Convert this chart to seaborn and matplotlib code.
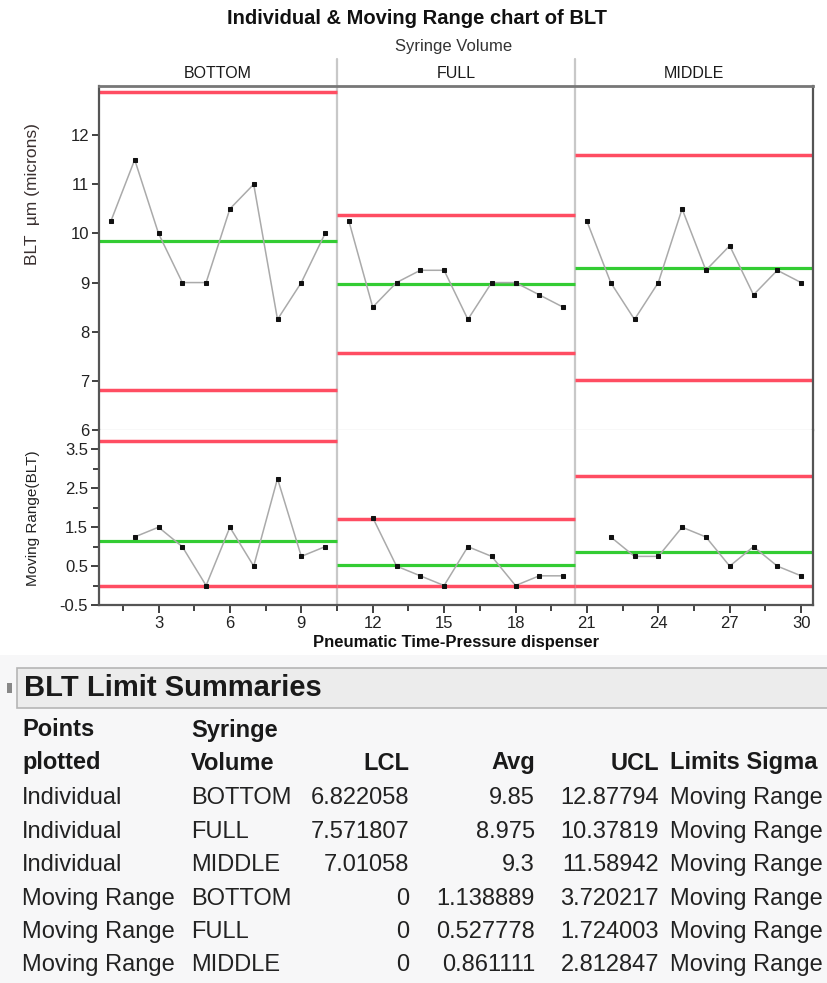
import numpy as np
import pandas as pd
import matplotlib
matplotlib.use("Agg")
import matplotlib.pyplot as plt
import seaborn as sns
from matplotlib.patches import Rectangle
from matplotlib.ticker import FixedLocator
import matplotlib.transforms as mtransforms

# ---------------- data ----------------
groups = ["BOTTOM", "FULL", "MIDDLE"]
sample = list(range(1, 31))
blt_bottom = [10.25, 11.5, 10.0, 9.0, 9.0, 10.5, 11.0, 8.25, 9.0, 10.0]
blt_full = [10.25, 8.5, 9.0, 9.25, 9.25, 8.25, 9.0, 9.0, 8.75, 8.5]
blt_middle = [10.25, 9.0, 8.25, 9.0, 10.5, 9.25, 9.75, 8.75, 9.25, 9.0]
mr_bottom = [None, 1.25, 1.5, 1.0, 0.0, 1.5, 0.5, 2.75, 0.75, 1.0]
mr_full = [None, 1.75, 0.5, 0.25, 0.0, 1.0, 0.75, 0.0, 0.25, 0.25]
mr_middle = [None, 1.25, 0.75, 0.75, 1.5, 1.25, 0.5, 1.0, 0.5, 0.25]

# limit summaries table
points_plotted = ["Individual", "Individual", "Individual",
                  "Moving Range", "Moving Range", "Moving Range"]
syringe_volume = ["BOTTOM", "FULL", "MIDDLE", "BOTTOM", "FULL", "MIDDLE"]
lcl = [6.822058, 7.571807, 7.01058, 0, 0, 0]
avg = [9.85, 8.975, 9.3, 1.138889, 0.527778, 0.861111]
ucl = [12.87794, 10.37819, 11.58942, 3.720217, 1.724003, 2.812847]
limits_sigma = ["Moving Range"] * 6

y_ticks_ind = [6, 7, 8, 9, 10, 11, 12]
y_ticks_mr = [-0.5, 0.5, 1.5, 2.5, 3.5]
x_ticks = [3, 6, 9, 12, 15, 18, 21, 24, 27, 30]

# ---------------- style ----------------
sns.set_style("white")
plt.rcParams["font.family"] = ["Liberation Sans", "DejaVu Sans"]

W, H = 827, 983
fig = plt.figure(figsize=(W / 100, H / 100), dpi=100)
fig.patch.set_facecolor("white")


def fx(px):
    return px / W


def fy(py):
    return 1 - py / H


L, R = 99, 813
ax_ind = fig.add_axes([fx(L), fy(430), fx(R) - fx(L), fy(86) - fy(430)])
ax_mr = fig.add_axes([fx(L), fy(605), fx(R) - fx(L), fy(430) - fy(605)])

vals_ind = blt_bottom + blt_full + blt_middle
vals_mr = mr_bottom + mr_full + mr_middle
grp = sum([[g] * 10 for g in groups], [])
df = pd.DataFrame({"x": sample, "BLT": vals_ind, "MR": vals_mr, "group": grp})

RED = "#ff4d62"
GREEN = "#33cc33"
LINE = "#aaaaaa"

line_kw = dict(color=LINE, linewidth=1.1, marker="s", markersize=3.3,
               markerfacecolor="#111111", markeredgecolor="#111111",
               estimator=None, legend=False)

sns.lineplot(data=df, x="x", y="BLT", units="group", ax=ax_ind, **line_kw)
sns.lineplot(data=df.dropna(subset=["MR"]), x="x", y="MR", units="group",
             ax=ax_mr, **line_kw)

# control limits per group
for i, g in enumerate(groups):
    x0, x1 = 0.5 + 10 * i, 10.5 + 10 * i
    ax_ind.hlines([ucl[i], lcl[i]], x0, x1, color=RED, lw=2.5, zorder=1)
    ax_ind.hlines(avg[i], x0, x1, color=GREEN, lw=2.3, zorder=1)
    j = i + 3
    ax_mr.hlines([ucl[j], lcl[j]], x0, x1, color=RED, lw=2.5, zorder=1)
    ax_mr.hlines(avg[j], x0, x1, color=GREEN, lw=2.3, zorder=1)

for ax in (ax_ind, ax_mr):
    ax.set_xlim(0.5, 30.5)
    ax.set_xlabel("")
    ax.set_ylabel("")
    ax.set_facecolor("white")
    ax.grid(False)

ax_ind.set_ylim(6, 13)
ax_mr.set_ylim(-0.5, 4.0)

# dividers
for xd in (10.5, 20.5):
    ax_ind.axvline(xd, ymin=0, ymax=1 + 27 / 344, color="#c8c8c8", lw=1.6,
                   clip_on=False, zorder=0)
    ax_mr.axvline(xd, color="#c8c8c8", lw=1.6, zorder=0)

# spines
for s in ("left", "right"):
    ax_ind.spines[s].set_color("#555555")
    ax_ind.spines[s].set_linewidth(1.6)
    ax_mr.spines[s].set_color("#555555")
    ax_mr.spines[s].set_linewidth(1.6)
ax_ind.spines["top"].set_color("#777777")
ax_ind.spines["top"].set_linewidth(2.0)
ax_ind.spines["bottom"].set_color("#dddddd")
ax_ind.spines["bottom"].set_linewidth(1.0)
ax_mr.spines["top"].set_visible(False)
ax_mr.spines["bottom"].set_color("#555555")
ax_mr.spines["bottom"].set_linewidth(1.6)

# ticks
ax_ind.set_yticks(y_ticks_ind)
ax_ind.set_xticks([])
ax_ind.tick_params(axis="y", direction="out", length=5, width=1.3,
                   color="#333333", labelsize=12, labelcolor="#222222", left=True, pad=2)
ax_mr.set_yticks(y_ticks_mr)
ax_mr.yaxis.set_minor_locator(FixedLocator([0, 1, 2, 3]))
ax_mr.set_xticks(x_ticks)
ax_mr.xaxis.set_minor_locator(FixedLocator([1.5 + 3 * k for k in range(10)]))
ax_mr.tick_params(axis="both", which="major", direction="out", length=6, width=1.3,
                  color="#333333", labelsize=12, labelcolor="#222222",
                  left=True, bottom=True, pad=2)
ax_mr.tick_params(axis="both", which="minor", direction="out", length=4, width=1.3,
                  color="#333333", left=True, bottom=True)
ax_mr.set_yticklabels(["-0.5", "0.5", "1.5", "2.5", "3.5"])

# group headers
trans = mtransforms.blended_transform_factory(ax_ind.transData, fig.transFigure)
for i, g in enumerate(groups):
    ax_ind.text(5.5 + 10 * i, fy(74), g, transform=trans, ha="center", va="center",
                fontsize=11.5, color="#1a1a1a")

# titles and labels
fig.text(fx(417), fy(19), "Individual & Moving Range chart of BLT", ha="center",
         va="center", fontsize=14.5, fontweight="bold", color="#111111")
fig.text(fx(454), fy(47), "Syringe Volume", ha="center", va="center",
         fontsize=12, color="#333333")
fig.text(fx(33), fy(194), "BLT  \u00b5m (microns)", rotation=90, ha="center",
         va="center", fontsize=12.5, color="#3a3030")
fig.text(fx(33), fy(518), "Moving Range(BLT)", rotation=90, ha="center",
         va="center", fontsize=11, color="#222222")
fig.text(fx(456), fy(643), "Pneumatic Time-Pressure dispenser", ha="center",
         va="center", fontsize=12, fontweight="bold", color="#111111")

# ---------------- table area ----------------
fig.add_artist(Rectangle((0, 0), 1, fy(655), transform=fig.transFigure,
                         facecolor="#f7f7f8", edgecolor="none", zorder=0))
fig.add_artist(Rectangle((fx(17), fy(708)), fx(830) - fx(17), fy(668) - fy(708),
                         transform=fig.transFigure, facecolor="#ececec",
                         edgecolor="#b5b5b5", lw=1.2, zorder=1))
fig.add_artist(Rectangle((fx(7), fy(693)), fx(5), fy(683) - fy(693),
                         transform=fig.transFigure, facecolor="#888888",
                         edgecolor="none", zorder=1))
fig.text(fx(24), fy(688), "BLT Limit Summaries", ha="left", va="center",
         fontsize=21, fontweight="bold", color="#1a1a1a", zorder=2)

hdr_kw = dict(fontsize=17, fontweight="bold", color="#1a1a1a", va="center")
fig.text(fx(22), fy(730), "Points", ha="left", **hdr_kw)
fig.text(fx(22), fy(763), "plotted", ha="left", **hdr_kw)
fig.text(fx(191), fy(730), "Syringe", ha="left", **hdr_kw)
fig.text(fx(191), fy(763), "Volume", ha="left", **hdr_kw)
fig.text(fx(409), fy(763), "LCL", ha="right", **hdr_kw)
fig.text(fx(535), fy(763), "Avg", ha="right", **hdr_kw)
fig.text(fx(659), fy(763), "UCL", ha="right", **hdr_kw)
fig.text(fx(670), fy(763), "Limits Sigma", ha="left", **hdr_kw)

row_y = [798, 832, 865, 899, 932, 965]
cell_kw = dict(fontsize=17, color="#222222", va="center")
for k in range(6):
    yy = fy(row_y[k])
    fig.text(fx(22), yy, points_plotted[k], ha="left", **cell_kw)
    fig.text(fx(191), yy, syringe_volume[k], ha="left", **cell_kw)
    fig.text(fx(409), yy, "%.7g" % lcl[k], ha="right", **cell_kw)
    fig.text(fx(535), yy, "%.7g" % avg[k], ha="right", **cell_kw)
    fig.text(fx(659), yy, "%.7g" % ucl[k], ha="right", **cell_kw)
    fig.text(fx(670), yy, limits_sigma[k], ha="left", **cell_kw)

fig.savefig("out.png", dpi=100)
